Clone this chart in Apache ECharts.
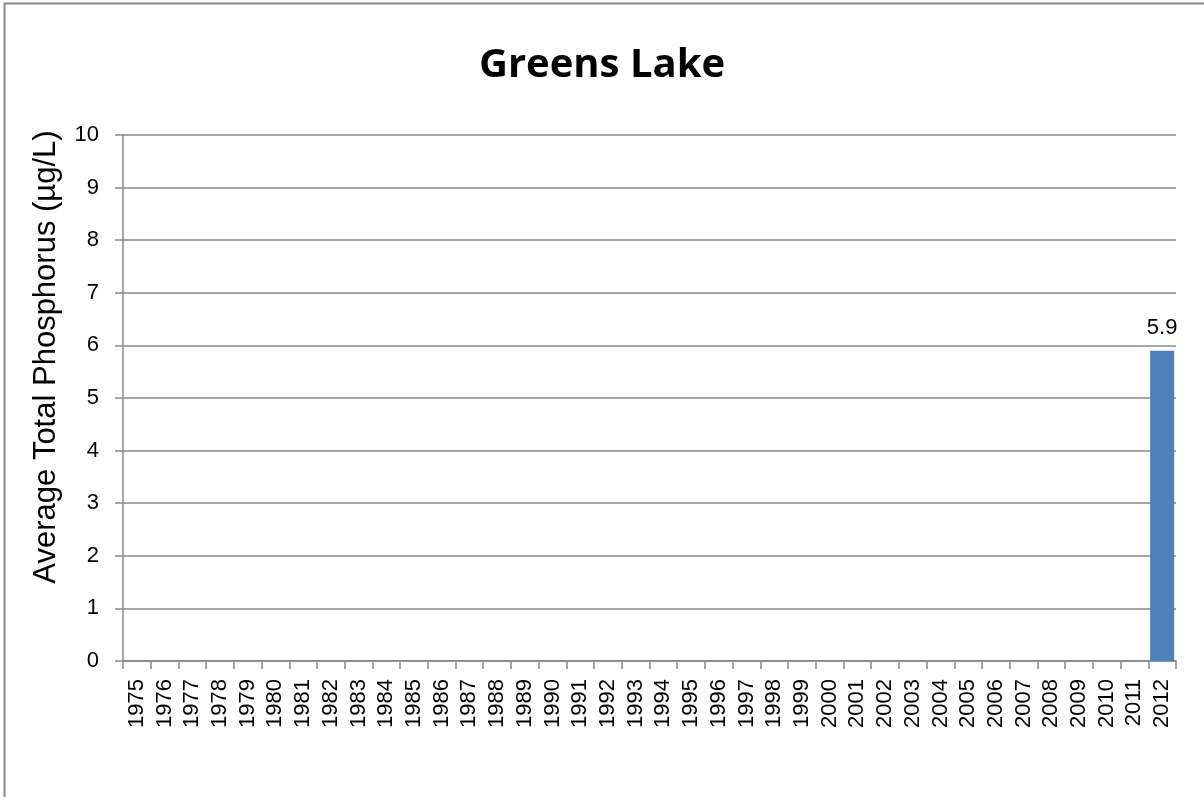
<!DOCTYPE html>
<html>
<head>
<meta charset="utf-8">
<script src="https://cdn.jsdelivr.net/npm/echarts@6/dist/echarts.min.js"></script>
<style>
html,body{margin:0;padding:0;background:#fff;}
#chart{width:1204px;height:797px;}
</style>
</head>
<body>
<div id="chart"></div>
<script>
var years = ['1975','1976','1977','1978','1979','1980','1981','1982','1983','1984','1985','1986','1987','1988','1989','1990','1991','1992','1993','1994','1995','1996','1997','1998','1999','2000','2001','2002','2003','2004','2005','2006','2007','2008','2009','2010','2011','2012'];
var phosphorus = [null,null,null,null,null,null,null,null,null,null,null,null,null,null,null,null,null,null,null,null,null,null,null,null,null,null,null,null,null,null,null,null,null,null,null,null,null,5.9];
var yTicks = [0,1,2,3,4,5,6,7,8,9,10];
var chartTitle = 'Greens Lake';
var yTitle = 'Average Total Phosphorus (µg/L)';

var chart = echarts.init(document.getElementById('chart'));
var gray = '#898989';
chart.setOption({
  animation: false,
  backgroundColor: '#fff',
  title: {
    text: chartTitle,
    left: 'center',
    top: 41,
    textStyle: {fontFamily: 'Open Sans', fontWeight: 'bold', fontSize: 40, color: '#000'}
  },
  graphic: [
    {type: 'rect', shape: {x: 4.5, y: 3.5, width: 1300, height: 900},
     style: {fill: 'none', stroke: gray, lineWidth: 2}, silent: true},
    {type: 'text', x: 46, y: 357, rotation: Math.PI / 2,
     style: {text: yTitle, fontFamily: 'Liberation Sans', fontSize: 31, fill: '#000',
             textAlign: 'center', textVerticalAlign: 'middle'}}
  ],
  grid: {left: 123, right: 28, top: 135, bottom: 136, containLabel: false},
  xAxis: {
    type: 'category',
    data: years,
    boundaryGap: true,
    axisLine: {show: true, lineStyle: {color: gray, width: 1.5}},
    axisTick: {show: true, alignWithLabel: false, length: 8, lineStyle: {color: gray, width: 1.5}},
    axisLabel: {rotate: 90, interval: 0, margin: 18, fontFamily: 'Liberation Sans', fontSize: 22, color: '#000'},
    splitLine: {show: false}
  },
  yAxis: {
    type: 'value',
    min: yTicks[0],
    max: yTicks[yTicks.length - 1],
    interval: 1,
    axisLine: {show: true, lineStyle: {color: gray, width: 1.5}},
    axisTick: {show: true, length: 8, lineStyle: {color: gray, width: 1.5}},
    axisLabel: {margin: 24, fontFamily: 'Liberation Sans', fontSize: 22, color: '#000'},
    splitLine: {show: true, lineStyle: {color: gray, width: 1.5}}
  },
  series: [{
    type: 'bar',
    data: phosphorus,
    barWidth: 24,
    itemStyle: {color: '#4F81BD'},
    label: {show: true, position: 'top', distance: 12, fontFamily: 'Liberation Sans', fontSize: 22, color: '#000'}
  }]
});
</script>
</body>
</html>
